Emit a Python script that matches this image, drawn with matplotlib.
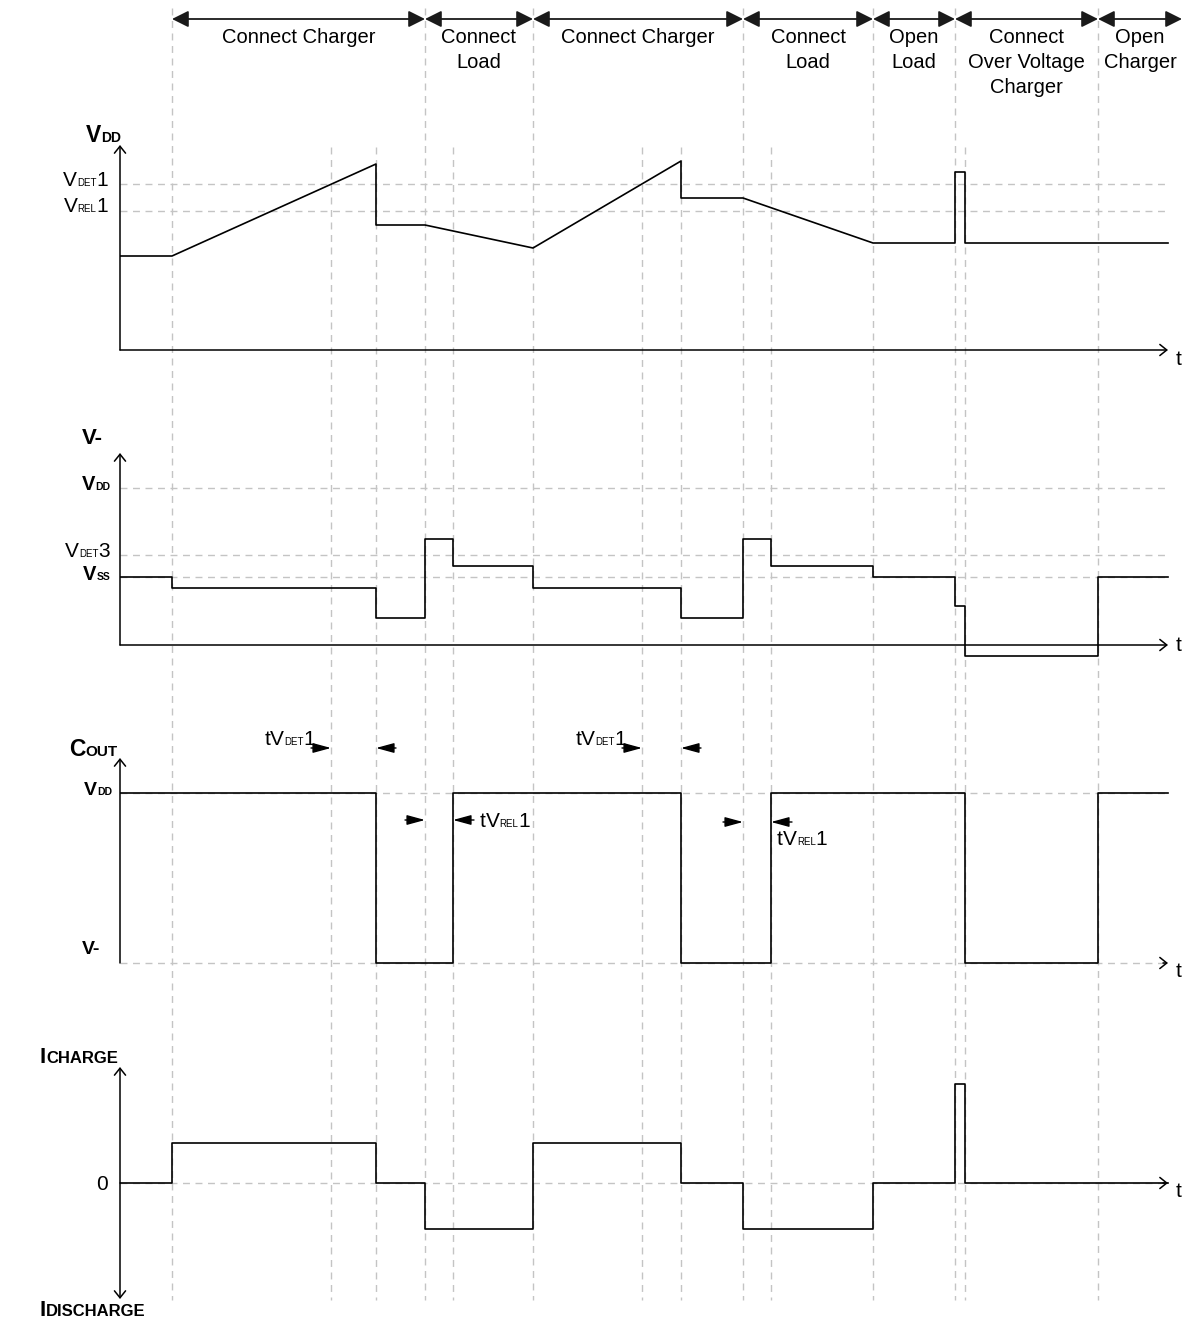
"""Timing diagram of a battery protection IC: VDD, V-, COUT and charge current."""

import matplotlib
matplotlib.use("Agg")
import matplotlib.pyplot as plt
from matplotlib.transforms import IdentityTransform

plt.rcParams['font.family'] = ['Liberation Sans', 'DejaVu Sans']

# ---- timing (arbitrary time units) ----
T_END = 104.8
SECTION_EDGES = [5.2, 30.5, 41.3, 62.3, 75.3, 83.5, 97.8, 106.2]
SECTION_NAMES = ["Connect Charger", "Connect\nLoad", "Connect Charger", "Connect\nLoad",
                 "Open\nLoad", "Connect\nOver Voltage\nCharger", "Open\nCharger"]
MARKS_FULL = [5.2, 30.5, 41.3, 62.3, 75.3, 83.5, 97.8]
MARKS_SHORT = [21.1, 25.6, 33.3, 52.2, 56.1, 65.1, 84.5]

# ---- VDD (piecewise linear) ----
VDD_T = [0, 5.2, 25.6, 25.6, 30.5, 41.3, 56.1, 56.1, 62.3, 75.3, 83.5, 83.5, 84.5, 84.5, T_END]
VDD_V = [9.4, 9.4, 18.6, 12.5, 12.5, 10.2, 18.9, 15.2, 15.2, 10.7, 10.7, 17.8, 17.8, 10.7, 10.7]
VDD_REFS = [16.6, 13.9]  # VDET1, VREL1

# ---- V- pin (steps) ----
VM_T = [0, 5.2, 25.6, 30.5, 33.3, 41.3, 56.1, 62.3, 65.1, 75.3, 83.5, 84.5, 97.8, T_END]
VM_V = [6.8, 5.7, 2.7, 10.6, 7.9, 5.7, 2.7, 10.6, 7.9, 6.8, 3.9, -1.1, 6.8, 6.8]
VM_REFS = [15.7, 9.0, 6.8]  # VDD, VDET3, VSS

# ---- COUT (steps) ----
COUT_T = [0, 25.6, 33.3, 56.1, 65.1, 84.5, 97.8, T_END]
COUT_V = [17.0, 0, 17.0, 0, 17.0, 0, 17.0, 17.0]
COUT_REFS = [17.0, 0]  # VDD, V-

# ---- charge / discharge current (steps) ----
ICHG_T = [0, 5.2, 25.6, 30.5, 41.3, 56.1, 62.3, 75.3, 83.5, 84.5, T_END]
ICHG_V = [0, 4.0, 0, -4.6, 4.0, 0, -4.6, 0, 9.9, 0, 0]

# delay markers: (detect crossing, output edge) and (load edge, release edge)
DET_DELAYS = [(21.1, 25.6), (52.2, 56.1)]
REL_DELAYS = [(30.5, 33.3), (62.3, 65.1)]

FIG_W, FIG_H = 1192, 1319
X0_PX, PX_PER_UNIT = 120, 10
GRID = dict(color="#c4c4c4", lw=1.0, linestyle=(0, (5, 4)))
WAVE = dict(color="black", lw=1.2)

fig = plt.figure(figsize=(FIG_W / 100, FIG_H / 100), dpi=100)

# background axes in (time, pixel row) coordinates for the markers and header
bg = fig.add_axes([0, 0, 1, 1])
bg.set_xlim(-X0_PX / PX_PER_UNIT, (FIG_W - X0_PX) / PX_PER_UNIT)
bg.set_ylim(FIG_H, 0)
bg.axis("off")

bg.vlines(MARKS_FULL, 8, 1300, **GRID)
bg.vlines(MARKS_SHORT, 147, 1300, **GRID)

for a, b in zip(SECTION_EDGES[:-1], SECTION_EDGES[1:]):
    bg.annotate("", xy=(b, 19), xytext=(a, 19),
                arrowprops=dict(arrowstyle="<|-|>,head_length=0.5,head_width=0.25",
                                color="#1a1a1a", lw=1.3, shrinkA=0, shrinkB=0,
                                mutation_scale=20))
for a, b, name in zip(SECTION_EDGES[:-1], SECTION_EDGES[1:], SECTION_NAMES):
    for i, line in enumerate(name.split("\n")):
        bg.text((a + b) / 2, 43 + 25 * i, line, ha="center", va="baseline", fontsize=14.5)


def panel(zero_row, top_row, bottom_row):
    ax = fig.add_axes([X0_PX / FIG_W, 1 - bottom_row / FIG_H,
                       (FIG_W - X0_PX) / FIG_W, (bottom_row - top_row) / FIG_H])
    ax.set_xlim(0, (FIG_W - X0_PX) / PX_PER_UNIT)
    ax.set_ylim((zero_row - bottom_row) / PX_PER_UNIT, (zero_row - top_row) / PX_PER_UNIT)
    ax.axis("off")
    ax.patch.set_alpha(0)
    return ax


def arrow(ax, start, end, style="->", lw=1.1, color="black", hl=0.5, hw=0.4, ms=10):
    ax.annotate("", xy=end, xytext=start, annotation_clip=False,
                arrowprops=dict(arrowstyle=f"{style},head_length={hl},head_width={hw}",
                                lw=lw, color=color, shrinkA=0, shrinkB=0, mutation_scale=ms))


def rich_text(ax, x, y, parts, ha="left", dx=0.0, dy=0.0):
    """Draw text pieces of mixed size side by side on a common baseline."""
    renderer = fig.canvas.get_renderer()
    px, py = ax.transData.transform((x, y))
    items = []
    for s, size, bold in parts:
        t = fig.text(0, 0, s, fontsize=size, fontweight="bold" if bold else "normal",
                     transform=IdentityTransform(), ha="left", va="baseline")
        items.append((t, t.get_window_extent(renderer).width))
    total = sum(w for _, w in items)
    cur = px + dx - {"left": 0, "center": total / 2, "right": total}[ha]
    for t, w in items:
        t.set_position((cur, py + dy))
        cur += w


def sub(main, low, tail="", size=15, small=7, bold=False):
    parts = [(main, size, bold), (low, small, bold)]
    if tail:
        parts.append((tail, size, bold))
    return parts


# ---------------- VDD ----------------
ax1 = panel(350, 100, 380)
ax1.hlines(VDD_REFS, 0, T_END, **GRID)
ax1.plot(VDD_T, VDD_V, **WAVE)
arrow(ax1, (0, 0), (0, 20.5))
arrow(ax1, (0, 0), (T_END, 0))
rich_text(ax1, 0, 20.5, sub("V", "DD", size=16.5, small=10, bold=True), dx=-34, dy=3)
rich_text(ax1, 0, VDD_REFS[0], sub("V", "DET", "1"), ha="right", dx=-12, dy=-2)
rich_text(ax1, 0, VDD_REFS[1], sub("V", "REL", "1"), ha="right", dx=-12, dy=-1)
rich_text(ax1, T_END, 0, [("t", 15, False)], dx=8, dy=-15)

# ---------------- V- ----------------
ax2 = panel(645, 430, 680)
ax2.hlines(VM_REFS, 0, T_END, **GRID)
ax2.plot(VM_T, VM_V, drawstyle="steps-post", **WAVE)
arrow(ax2, (0, 0), (0, 19.2))
arrow(ax2, (0, 0), (T_END, 0))
rich_text(ax2, 0, 19.2, [("V-", 16, True)], dx=-38, dy=9)
rich_text(ax2, 0, VM_REFS[0], sub("V", "DD", size=14.5, small=7.5, bold=True), ha="right", dx=-10, dy=-2)
rich_text(ax2, 0, VM_REFS[1], sub("V", "DET", "3"), ha="right", dx=-10, dy=-2)
rich_text(ax2, 0, VM_REFS[2], sub("V", "SS", size=14.5, small=7.5, bold=True), ha="right", dx=-10, dy=-3)
rich_text(ax2, T_END, 0, [("t", 15, False)], dx=8, dy=-6)

# ---------------- COUT ----------------
ax3 = panel(963, 700, 990)
ax3.hlines(COUT_REFS, 0, T_END, **GRID)
ax3.plot(COUT_T, COUT_V, drawstyle="steps-post", **WAVE)
arrow(ax3, (0, 0), (0, 20.5))
arrow(ax3, (T_END - 0.5, 0), (T_END, 0))
rich_text(ax3, 0, 20.5, sub("C", "OUT", size=16.5, small=11, bold=True), dx=-51, dy=2)
rich_text(ax3, 0, COUT_REFS[0], sub("V", "DD", size=14, small=7.5, bold=True), ha="right", dx=-8, dy=-2)
rich_text(ax3, 0, COUT_REFS[1], [("V-", 14, True)], ha="right", dx=-20, dy=9)
rich_text(ax3, T_END, 0, [("t", 15, False)], dx=8, dy=-14)

ann = dict(style="-|>", lw=1.0, hl=1.1, hw=0.3, ms=10)
for t_det, t_out in DET_DELAYS:
    arrow(ax3, (t_det - 2.0, 21.5), (t_det, 21.5), **ann)
    arrow(ax3, (t_out + 2.0, 21.5), (t_out, 21.5), **ann)
    rich_text(ax3, t_det - 1.6, 21.5, [("t", 15, False)] + sub("V", "DET", "1"),
              ha="right", dy=3)
for (t_in, t_rel), y_arr in zip(REL_DELAYS, [14.3, 14.1]):
    arrow(ax3, (t_in - 2.0, y_arr), (t_in, y_arr), **ann)
    arrow(ax3, (t_rel + 2.1, y_arr), (t_rel, y_arr), **ann)
rich_text(ax3, REL_DELAYS[0][1], 14.3, [("t", 15, False)] + sub("V", "REL", "1"), dx=27, dy=-7)
rich_text(ax3, REL_DELAYS[1][1], 14.1, [("t", 15, False)] + sub("V", "REL", "1"), dx=6, dy=-23)

# ---------------- charge current ----------------
ax4 = panel(1183, 1040, 1319)
ax4.hlines(0, 0, T_END, **GRID)
ax4.plot(ICHG_T, ICHG_V, drawstyle="steps-post", **WAVE)
arrow(ax4, (0, 0), (0, 11.6))
arrow(ax4, (0, 0), (0, -11.6))
arrow(ax4, (T_END - 0.5, 0), (T_END, 0))
rich_text(ax4, 0, 11.6, sub("I", "CHARGE", size=16, small=12, bold=True), dx=-80, dy=4)
rich_text(ax4, 0, -11.6, sub("I", "DISCHARGE", size=16, small=12, bold=True), dx=-80, dy=-17)
rich_text(ax4, 0, 0, [("0", 15, False)], ha="right", dx=-12, dy=-7)
rich_text(ax4, T_END, 0, [("t", 15, False)], dx=8, dy=-14)

fig.savefig("out.png", dpi=100, facecolor="white")
